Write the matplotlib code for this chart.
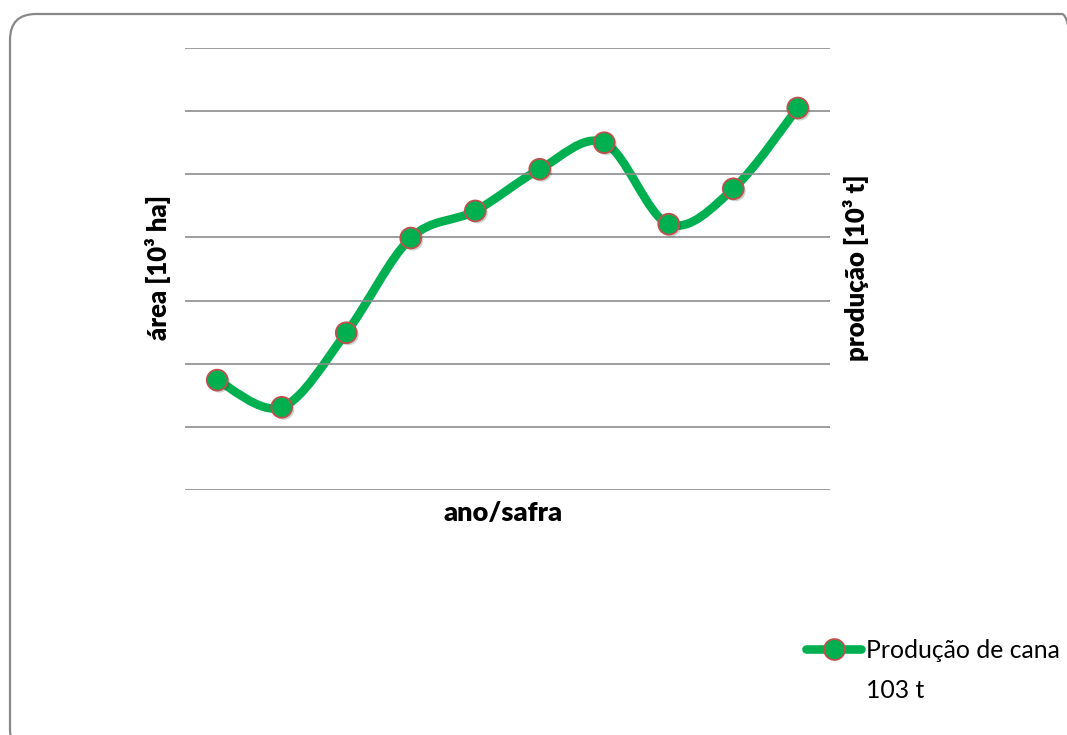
import matplotlib.pyplot as plt
import numpy as np
from matplotlib.path import Path
from matplotlib.patches import PathPatch, FancyBboxPatch
from matplotlib.lines import Line2D
from matplotlib.transforms import IdentityTransform
import matplotlib.patheffects as pe

plt.rcParams['font.family'] = ['Lato', 'DejaVu Sans']

# produção de cana (no tick labels shown)
safra = np.arange(10)
producao = [1.74, 1.31, 2.49, 3.99, 4.42, 5.08, 5.50, 4.21, 4.77, 6.05]

green = '#00B050'
red = '#C0504D'

W, H = 1067, 735
fig = plt.figure(figsize=(W / 100, H / 100), dpi=100)

# rounded frame around the chart area (pixel coords, runs off right/bottom)
frame = FancyBboxPatch((10, -20), 1078, H - 14 + 20,
                       boxstyle='round,pad=0,rounding_size=26',
                       transform=IdentityTransform(), fill=False,
                       edgecolor='#888888', linewidth=1.6, clip_on=False)
fig.add_artist(frame)

ax = fig.add_axes([185 / W, 1 - 490 / H, 645 / W, 442 / H])
ax.set_xlim(-0.5, 9.5)
ax.set_ylim(0, 7)
ax.set_yticks(range(8))
ax.set_xticks([])
ax.yaxis.grid(True, color='#8c8c8c', linewidth=1.2)
ax.tick_params(left=False, labelleft=False)
for s in ax.spines.values():
    s.set_visible(False)

# smoothed line like the spreadsheet "smooth line" option (bezier segments)
x = np.asarray(safra, dtype=float)
y = np.asarray(producao)
verts = [(x[0], y[0])]
codes = [Path.MOVETO]
n = len(x)
for i in range(n - 1):
    xp, yp = (x[i - 1], y[i - 1]) if i > 0 else (x[i], y[i])
    xn, yn = (x[i + 2], y[i + 2]) if i + 2 < n else (x[i + 1], y[i + 1])
    c1 = (x[i] + (x[i + 1] - xp) / 6, y[i] + (y[i + 1] - yp) / 6)
    c2 = (x[i + 1] - (xn - x[i]) / 6, y[i + 1] - (yn - y[i]) / 6)
    verts += [c1, c2, (x[i + 1], y[i + 1])]
    codes += [Path.CURVE4] * 3
curve = PathPatch(Path(verts, codes), fill=False, edgecolor=green,
                  linewidth=6.2, capstyle='round', joinstyle='round')
ax.add_patch(curve)

ax.plot(safra, producao, linestyle='none', marker='o', markersize=15,
        markerfacecolor=green, markeredgecolor=red, markeredgewidth=1.3,
        path_effects=[pe.SimplePatchShadow(offset=(1.5, -1.5), alpha=0.2),
                      pe.Normal()])

fig.text(158 / W, 1 - 268 / H, 'área [10³ ha]', rotation=90,
         ha='center', va='center', fontsize=18.5, fontweight='heavy')
fig.text(856 / W, 1 - 268 / H, 'produção [10³ t]', rotation=90,
         ha='center', va='center', fontsize=18.5, fontweight='heavy')
fig.text(503 / W, 1 - 513 / H, 'ano/safra', ha='center', va='center',
         fontsize=19.5, fontweight='heavy')

# legend (drawn by hand so the symbol sits on the first text line)
fig.add_artist(Line2D([806 / W, 861 / W], [1 - 649 / H, 1 - 649 / H],
                      transform=fig.transFigure, color=green, linewidth=6.2,
                      solid_capstyle='round'))
fig.add_artist(Line2D([833.5 / W], [1 - 649 / H], transform=fig.transFigure,
                      linestyle='none', marker='o', markersize=15,
                      markerfacecolor=green, markeredgecolor=red,
                      markeredgewidth=1.3))
fig.text(866 / W, 1 - 650 / H, 'Produção de cana', ha='left', va='center',
         fontsize=17.8)
fig.text(866 / W, 1 - 690 / H, '103 t', ha='left', va='center',
         fontsize=17.8)

fig.savefig('out.png', dpi=100)
